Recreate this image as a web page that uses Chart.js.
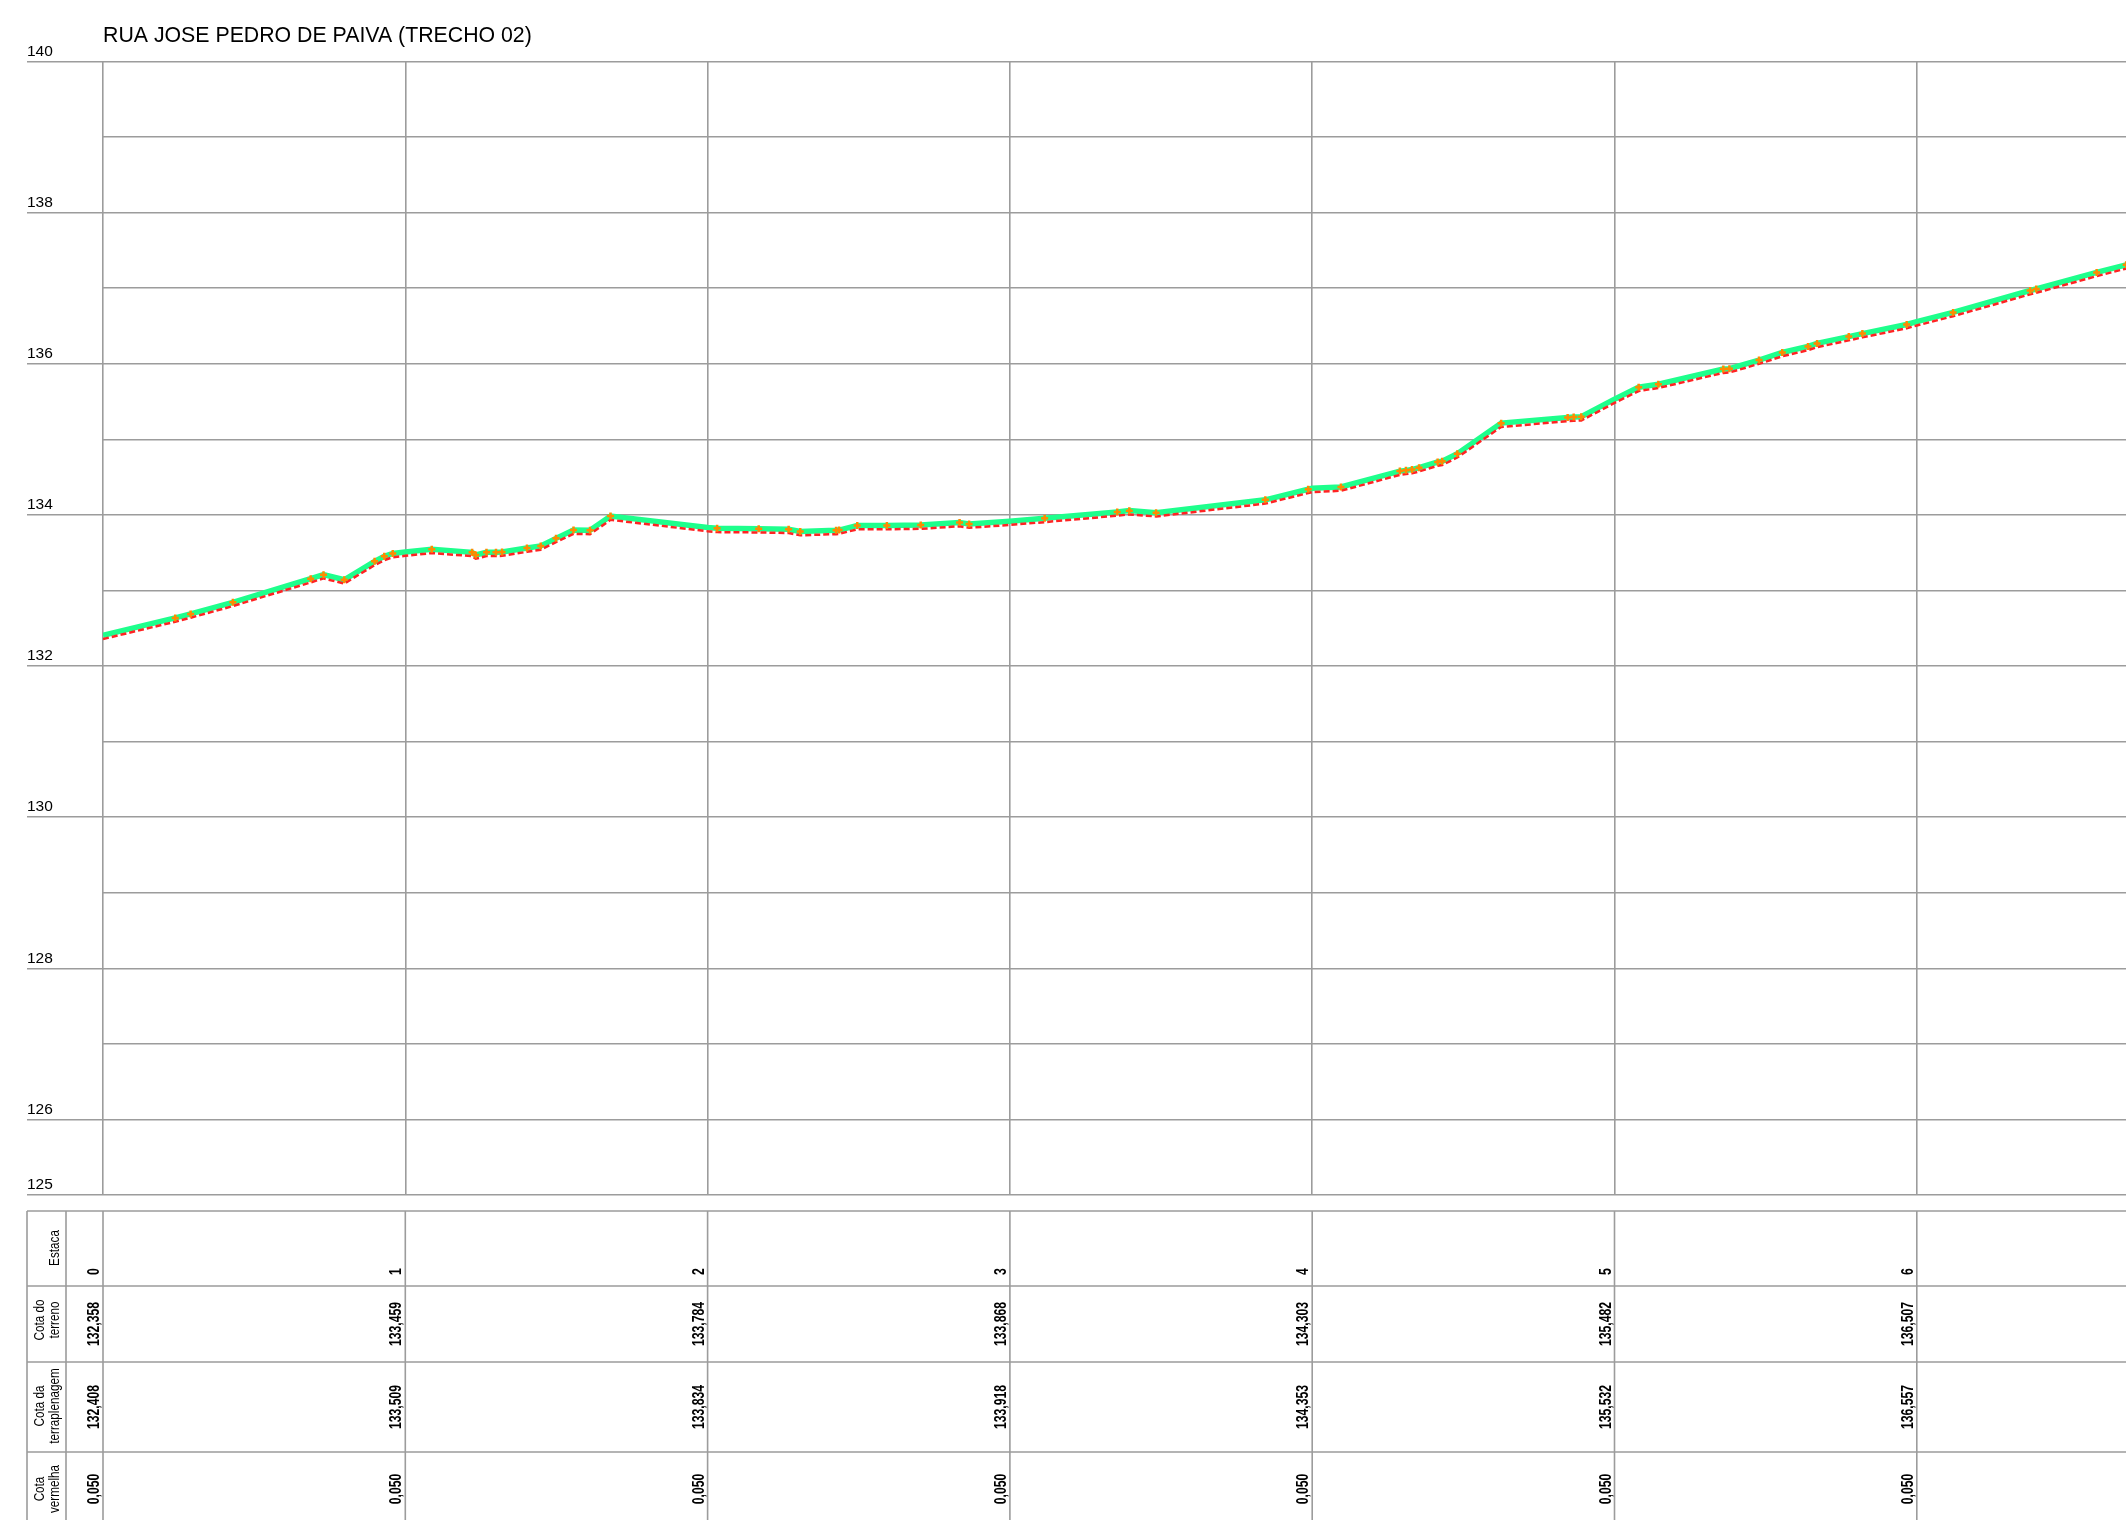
<!DOCTYPE html>
<html>
<head>
<meta charset="utf-8">
<script src="https://cdn.jsdelivr.net/npm/chart.js@4.4.1/dist/chart.umd.min.js"></script>
<style>
  html, body { margin: 0; padding: 0; background: #ffffff; }
  canvas { display: block; }
</style>
</head>
<body>
<canvas id="c" width="2126" height="1520"></canvas>
<script>
// ---------- DATA ----------
const titulo = 'RUA JOSE PEDRO DE PAIVA (TRECHO 02)';

// Estacas (every 20 m) and table rows
const estacas = [0, 1, 2, 3, 4, 5, 6];
const cotaTerreno = [132.358, 133.459, 133.784, 133.868, 134.303, 135.482, 136.507];
const cotaTerraplenagem = [132.408, 133.509, 133.834, 133.918, 134.353, 135.532, 136.557];
const cotaVermelha = [0.050, 0.050, 0.050, 0.050, 0.050, 0.050, 0.050];
const rowLabels = [['Estaca'], ['Cota do', 'terreno'], ['Cota da', 'terraplenagem'], ['Cota', 'vermelha']];

// Profile vertices (distance in m)
const distancias = [0, 4.78, 5.80, 8.59, 13.74, 14.59, 15.96, 17.97, 18.61, 19.17, 20,
  21.75, 24.42, 24.66, 25.37, 26.0, 26.4, 28.05, 28.96, 29.97, 31.13, 32.22, 33.58, 40,
  40.63, 43.38, 45.36, 46.13, 48.5, 48.7, 49.9, 51.86, 54.1, 56.67, 57.3, 60,
  62.3, 67.1, 67.9, 69.67, 76.9, 79.74, 80, 81.9, 85.8, 86.2, 86.6, 87.07, 88.3, 88.6,
  89.6, 92.5, 96.9, 97.3, 97.8, 100, 101.6, 102.9, 107.2, 107.6, 109.56, 111.1, 112.8,
  113.4, 115.5, 116.4, 119.33, 120, 122.4, 127.5, 127.9, 131.9, 133.85];
const perfilTerraplenagem = [132.408, 132.637, 132.690, 132.844, 133.157, 133.210, 133.142, 133.386, 133.452, 133.490, 133.509,
  133.545, 133.505, 133.470, 133.505, 133.505, 133.510, 133.562, 133.590, 133.690, 133.800, 133.796, 133.985, 133.834,
  133.823, 133.818, 133.810, 133.780, 133.796, 133.800, 133.860, 133.860, 133.866, 133.900, 133.880, 133.918,
  133.955, 134.040, 134.057, 134.030, 134.200, 134.340, 134.353, 134.370, 134.580, 134.590, 134.600, 134.626, 134.700, 134.710,
  134.810, 135.215, 135.290, 135.295, 135.300, 135.532, 135.690, 135.730, 135.930, 135.935, 136.050, 136.150, 136.230,
  136.270, 136.360, 136.400, 136.520, 136.557, 136.680, 136.970, 136.990, 137.210, 137.310];
const perfilTerreno = [132.358, 132.587, 132.640, 132.794, 133.107, 133.160, 133.092, 133.336, 133.402, 133.440, 133.459,
  133.495, 133.455, 133.420, 133.455, 133.455, 133.460, 133.512, 133.540, 133.640, 133.750, 133.746, 133.935, 133.784,
  133.773, 133.768, 133.760, 133.730, 133.746, 133.750, 133.810, 133.810, 133.816, 133.850, 133.830, 133.868,
  133.905, 133.990, 134.007, 133.980, 134.150, 134.290, 134.303, 134.320, 134.530, 134.540, 134.550, 134.576, 134.650, 134.660,
  134.760, 135.165, 135.240, 135.245, 135.250, 135.482, 135.640, 135.680, 135.880, 135.885, 136.000, 136.100, 136.180,
  136.220, 136.310, 136.350, 136.470, 136.507, 136.630, 136.920, 136.940, 137.160, 137.260];

// Axis ticks
const yTicks = [125, 126, 127, 128, 129, 130, 131, 132, 133, 134, 135, 136, 137, 138, 139, 140];
const yLabels = [125, 126, 128, 130, 132, 134, 136, 138, 140];
const xMin = 0, xMax = 133.84, metrosPorEstaca = 20;

// ---------- STYLE ----------
const GRID = '#9c9c9c';
const fmt = v => v.toFixed(3).replace('.', ',');

const tablePlugin = {
  id: 'tabela',
  afterDraw(chart) {
    const ctx = chart.ctx;
    const xs = chart.scales.x;
    const left = 27, labelDiv = 66, right = chart.width;
    const rows = [1211, 1286, 1362, 1452, 1540];
    ctx.save();
    ctx.strokeStyle = GRID;
    ctx.lineWidth = 1.6;
    ctx.beginPath();
    for (let i = 0; i < 4; i++) {
      ctx.moveTo(left, rows[i]); ctx.lineTo(right, rows[i]);
    }
    ctx.moveTo(left, rows[0]); ctx.lineTo(left, chart.height);
    ctx.moveTo(labelDiv, rows[0]); ctx.lineTo(labelDiv, chart.height);
    estacas.forEach(e => {
      const x = xs.getPixelForValue(e * metrosPorEstaca);
      ctx.moveTo(x, rows[0]); ctx.lineTo(x, chart.height);
    });
    ctx.stroke();

    ctx.fillStyle = '#000';
    // row labels
    const labelCenters = [1248, 1320, 1406, 1489];
    rowLabels.forEach((lines, r) => {
      const xsLines = lines.length === 1 ? [55] : [40, 55];
      lines.forEach((t, k) => {
        ctx.save();
        ctx.translate(xsLines[k], labelCenters[r]);
        ctx.rotate(-Math.PI / 2);
        ctx.scale(0.78, 1);
        ctx.font = '15px "Liberation Sans", Arial, sans-serif';
        ctx.textAlign = 'center';
        ctx.textBaseline = 'middle';
        ctx.fillText(t, 0, 0);
        ctx.restore();
      });
    });

    // values
    const rowsText = [
      estacas.map(e => String(e)),
      cotaTerreno.map(fmt),
      cotaTerraplenagem.map(fmt),
      cotaVermelha.map(fmt)
    ];
    const centers = [1275, 1324, 1407, 1489];
    rowsText.forEach((vals, r) => {
      vals.forEach((t, i) => {
        const x = xs.getPixelForValue(estacas[i] * metrosPorEstaca) - 4;
        ctx.save();
        ctx.translate(x, centers[r]);
        ctx.rotate(-Math.PI / 2);
        ctx.scale(0.72, 1);
        ctx.font = 'bold 17px "Liberation Sans", Arial, sans-serif';
        ctx.textAlign = r === 0 ? 'left' : 'center';
        ctx.textBaseline = 'alphabetic';
        ctx.fillText(t, 0, 0);
        ctx.restore();
      });
    });
    ctx.restore();
  }
};

const toPts = arr => distancias.map((d, i) => ({ x: d, y: arr[i] }));
const markerRadius = distancias.map(d => (d % metrosPorEstaca === 0) ? 0 : 3.5);

new Chart(document.getElementById('c'), {
  type: 'line',
  data: {
    datasets: [
      {
        label: 'Marcos',
        data: toPts(perfilTerraplenagem),
        showLine: false,
        pointStyle: 'cross',
        pointRadius: markerRadius,
        pointBorderWidth: 2.5,
        pointBorderColor: '#ff8a00',
        pointBackgroundColor: '#ff8a00',
        order: 0
      },
      {
        label: 'Cota do terreno',
        data: toPts(perfilTerreno),
        borderColor: '#ff2323',
        borderWidth: 2.5,
        borderDash: [6, 3],
        pointRadius: 0,
        tension: 0,
        order: 1
      },
      {
        label: 'Cota da terraplenagem',
        data: toPts(perfilTerraplenagem),
        borderColor: '#1eff8c',
        borderWidth: 5.5,
        pointRadius: 0,
        tension: 0,
        order: 2
      }
    ]
  },
  options: {
    responsive: false,
    animation: false,
    devicePixelRatio: 1,
    layout: { autoPadding: false, padding: { left: 27, right: 0, top: 0, bottom: 325 } },
    plugins: {
      legend: { display: false },
      tooltip: { enabled: false },
      title: {
        display: true,
        text: titulo,
        align: 'start',
        fullSize: false,
        color: '#000',
        font: { family: '"Liberation Sans", Arial, sans-serif', size: 21.3, weight: 'normal' },
        padding: { top: 23, bottom: 13 }
      }
    },
    scales: {
      x: {
        type: 'linear',
        min: xMin,
        max: xMax,
        afterBuildTicks: s => { s.ticks = estacas.map(e => ({ value: e * metrosPorEstaca })); },
        afterFit: s => { s.height = 0; },
        ticks: { display: false },
        border: { display: false },
        grid: { color: GRID, lineWidth: 1.6, drawTicks: false }
      },
      y: {
        type: 'linear',
        min: 125,
        max: 140,
        afterBuildTicks: s => { s.ticks = yTicks.map(v => ({ value: v })); },
        afterFit: s => { s.width = 76; },
        border: { display: false },
        grid: {
          color: GRID,
          lineWidth: 1.6,
          drawTicks: true,
          tickLength: 76,
          tickWidth: 1.6,
          tickColor: c => (c.tick && yLabels.includes(c.tick.value)) ? GRID : 'rgba(0,0,0,0)'
        },
        ticks: {
          autoSkip: false,
          crossAlign: 'far',
          labelOffset: -10,
          padding: 0,
          color: '#000',
          font: { family: '"Liberation Sans", Arial, sans-serif', size: 15.5 },
          callback: v => yLabels.includes(v) ? String(v) : ''
        }
      }
    }
  },
  plugins: [tablePlugin]
});
</script>
</body>
</html>
